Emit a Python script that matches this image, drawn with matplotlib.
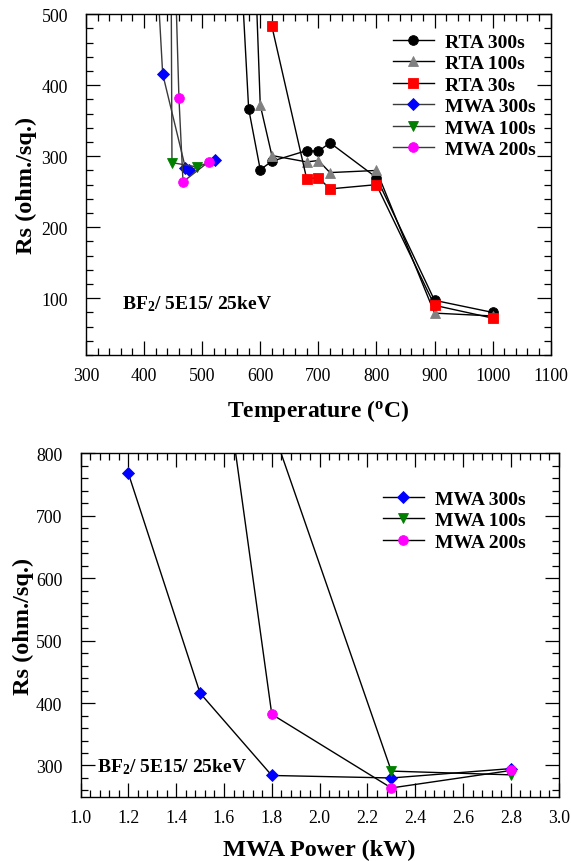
import matplotlib
matplotlib.use("Agg")
import matplotlib.pyplot as plt
from matplotlib.ticker import MultipleLocator, FormatStrFormatter

plt.rcParams['font.family'] = ['Liberation Serif', 'DejaVu Serif']
plt.rcParams['mathtext.fontset'] = 'custom'
plt.rcParams['mathtext.rm'] = 'Liberation Serif'
plt.rcParams['mathtext.bf'] = 'Liberation Serif:bold'
plt.rcParams['mathtext.it'] = 'Liberation Serif:italic'

# RTA anneals: temperature (C) vs sheet resistance (ohm/sq)
rta_temp_300 = [560, 580, 600, 620, 680, 700, 720, 800, 900, 1000]
rta_rs_300 = [670, 367, 281, 293, 308, 307, 319, 270, 97, 80]
rta_temp_100 = [590, 600, 620, 680, 700, 720, 800, 900, 1000]
rta_rs_100 = [597, 372, 301, 292, 294, 277, 280, 79, 75]
rta_temp_30 = [620, 680, 700, 720, 800, 900, 1000]
rta_rs_30 = [483, 268, 270, 254, 260, 90, 72]

# MWA anneals: power (kW), measured temperature (C), sheet resistance
mwa_power_300 = [1.2, 1.5, 1.8, 2.3, 2.8]
mwa_temp_300 = [408, 432, 471, 477, 522]
mwa_rs_300 = [768, 416, 284, 280, 295]
mwa_power_100 = [1.8, 2.3, 2.8]
mwa_temp_100 = [445, 448, 491]
mwa_rs_100 = [843, 291, 285]
mwa_power_200 = [1.5, 1.8, 2.3, 2.8]
mwa_temp_200 = [430, 460, 467, 511]
mwa_rs_200 = [1212, 382, 264, 292]

temp_ticks = [300, 400, 500, 600, 700, 800, 900, 1000, 1100]
rs_ticks_top = [100, 200, 300, 400, 500]
power_ticks = [1.0, 1.2, 1.4, 1.6, 1.8, 2.0, 2.2, 2.4, 2.6, 2.8, 3.0]
rs_ticks_bottom = [300, 400, 500, 600, 700, 800]

W, H = 571, 862
fig = plt.figure(figsize=(W / 100, H / 100), dpi=100)

def px_axes(l, t, r, b):
    return fig.add_axes([l / W, 1 - b / H, (r - l) / W, (b - t) / H])

ax1 = px_axes(86, 15.3, 550.7, 356)
ax2 = px_axes(80.5, 454.3, 558.7, 797.7)

mk = dict(lw=1.0, markeredgewidth=0.6)
MWA_LINE = '#3a3a3a'

ax1.plot(rta_temp_300, rta_rs_300, color='black', marker='o', ms=7,
         mfc='black', mec='black', label='RTA 300s', **mk)
ax1.plot(rta_temp_100, rta_rs_100, color='black', marker='^', ms=7,
         mfc='#808080', mec='#808080', label='RTA 100s', **mk)
ax1.plot(rta_temp_30, rta_rs_30, color='black', marker='s', ms=6.5,
         mfc='red', mec='red', label='RTA 30s', **mk)
ax1.plot(mwa_temp_300, mwa_rs_300, color=MWA_LINE, marker='D', ms=5.8,
         mfc='blue', mec='blue', label='MWA 300s', **mk)
ax1.plot(mwa_temp_100, mwa_rs_100, color=MWA_LINE, marker='v', ms=7,
         mfc='green', mec='green', label='MWA 100s', **mk)
ax1.plot(mwa_temp_200, mwa_rs_200, color=MWA_LINE, marker='o', ms=7,
         mfc='magenta', mec='magenta', label='MWA 200s', **mk)

ax2.plot(mwa_power_300, mwa_rs_300, color='black', marker='D', ms=5.8,
         mfc='blue', mec='blue', label='MWA 300s', **mk)
ax2.plot(mwa_power_100, mwa_rs_100, color='black', marker='v', ms=7,
         mfc='green', mec='green', label='MWA 100s', **mk)
ax2.plot(mwa_power_200, mwa_rs_200, color='black', marker='o', ms=7,
         mfc='magenta', mec='magenta', label='MWA 200s', **mk)

ax1.set_xlim(300, 1100)
ax1.set_ylim(20, 500)
ax1.set_xticks(temp_ticks)
ax1.set_yticks(rs_ticks_top)
ax1.xaxis.set_minor_locator(MultipleLocator(20))
ax1.yaxis.set_minor_locator(MultipleLocator(20))

ax2.set_xlim(1.0, 3.0)
ax2.set_ylim(250, 800)
ax2.set_xticks(power_ticks)
ax2.set_yticks(rs_ticks_bottom)
ax2.xaxis.set_major_formatter(FormatStrFormatter('%.1f'))
ax2.xaxis.set_minor_locator(MultipleLocator(0.04))
ax2.yaxis.set_minor_locator(MultipleLocator(20))

for ax in (ax1, ax2):
    for s in ax.spines.values():
        s.set_linewidth(1.0)
    ax.tick_params(which='both', direction='in', top=True, right=True,
                   width=0.9, labelsize=12.8, colors='black')
    ax.tick_params(which='major', length=10)
    ax.tick_params(which='minor', length=5)
    ax.tick_params(axis='x', which='major', pad=9)
    ax.tick_params(axis='y', which='major', pad=13)
    ax.set_ylabel('Rs (ohm./sq.)', fontsize=17.5, fontweight='bold')
    ax.yaxis.label.set_va('center')
    ax.xaxis.label.set_va('center')

ax1.set_xlabel(r'Temperature ($^{\mathbf{o}}$C)', fontsize=17, fontweight='bold')
ax2.set_xlabel('MWA Power (kW)', fontsize=17.5, fontweight='bold')
ax1.xaxis.set_label_coords(0.5, (356 - 411) / 340.7)
ax2.xaxis.set_label_coords(0.5, (797.7 - 850) / 343.4)
ax1.yaxis.set_label_coords((26 - 86) / 464.7, 0.5)
ax2.yaxis.set_label_coords((23 - 80.5) / 478.2, 0.5)

label_txt = r'BF$_{\mathbf{2}}$/ 5E15/ 25keV'
ax1.text((121.7 - 86) / 464.7, (356 - 304) / 340.7, label_txt, transform=ax1.transAxes,
         fontsize=14, fontweight='bold', va='center', ha='left')
ax2.text((96.7 - 80.5) / 478.2, (797.7 - 767) / 343.4, label_txt, transform=ax2.transAxes,
         fontsize=14, fontweight='bold', va='center', ha='left')

leg_kw = dict(frameon=False, prop={'weight': 'bold', 'size': 14},
              handlelength=2.1, handletextpad=0.55, labelspacing=0.2,
              borderpad=0, borderaxespad=0, loc='upper left')
ax1.legend(bbox_to_anchor=((393 - 86) / 464.7, 1 - (34 - 15.3) / 340.7), **leg_kw)
ax2.legend(bbox_to_anchor=((383 - 80.5) / 478.2, 1 - (491 - 454.3) / 343.4), **leg_kw)

fig.savefig('out.png', dpi=100)
